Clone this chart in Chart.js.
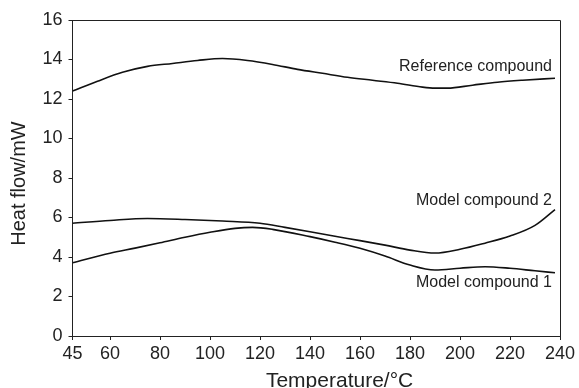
<!DOCTYPE html>
<html><head><meta charset="utf-8">
<script src="https://cdn.jsdelivr.net/npm/chart.js@4"></script>
<style>html,body{margin:0;padding:0;background:#fff}#wrap{width:579px;height:388px}</style>
</head><body><div id="wrap"><canvas id="c" width="579" height="388"></canvas></div>
<script>
const xTicks = [45,60,80,100,120,140,160,180,200,220,240];
const yTicks = [0,2,4,6,8,10,12,14,16];
const refT  = [45,55,65,75,85,95,105,115,125,135,145,155,165,175,185,190,195,205,215,225,238];
const refV  = [12.4,12.9,13.35,13.65,13.8,13.95,14.05,13.95,13.75,13.5,13.3,13.1,12.95,12.8,12.6,12.55,12.55,12.7,12.85,12.95,13.05];
const m2T   = [45,60,75,90,105,120,130,140,150,160,170,180,190,200,210,220,230,238];
const m2V   = [5.71,5.85,5.95,5.9,5.82,5.71,5.5,5.28,5.05,4.83,4.6,4.35,4.2,4.39,4.7,5.06,5.6,6.4];
const m1T   = [45,60,70,80,90,100,110,117,125,140,150,160,170,180,190,200,210,220,230,238];
const m1V   = [3.71,4.19,4.45,4.72,5.0,5.25,5.45,5.5,5.4,5.03,4.75,4.44,4.05,3.59,3.34,3.43,3.51,3.43,3.3,3.2];
const seriesNames = ["Reference compound","Model compound 2","Model compound 1"];
const labelAnchors = [[236.8,13.64],[236.8,6.85],[236.8,2.68]];
const xTitle = "Temperature/°C";
const yTitle = "Heat flow/mW";

const pts = (t,v)=>t.map((x,i)=>({x:x,y:v[i]}));
const FONT = "'Liberation Sans', Arial, sans-serif";
const NB = "\u00a0";

const boxAndLabels = {
  id:'boxAndLabels',
  afterDraw(chart){
    const {ctx, chartArea:a, scales} = chart;
    ctx.save();
    ctx.strokeStyle = '#222'; ctx.lineWidth = 1;
    ctx.beginPath();
    ctx.moveTo(a.left, a.top+0.5); ctx.lineTo(a.right+0.5, a.top+0.5); ctx.lineTo(a.right+0.5, a.bottom);
    ctx.stroke();
    ctx.fillStyle = '#222';
    ctx.font = '16px ' + FONT;
    ctx.textAlign = 'right'; ctx.textBaseline = 'middle';
    seriesNames.forEach((n,i)=>{
      ctx.fillText(n, scales.x.getPixelForValue(labelAnchors[i][0]), scales.y.getPixelForValue(labelAnchors[i][1]));
    });
    ctx.restore();
  }
};

const ds = (name,t,v)=>({label:name,data:pts(t,v),borderColor:'#111',borderWidth:1.6,pointRadius:0,fill:false,cubicInterpolationMode:'monotone'});

new Chart(document.getElementById('c'),{
  type:'line',
  data:{datasets:[ds(seriesNames[0],refT,refV),ds(seriesNames[1],m2T,m2V),ds(seriesNames[2],m1T,m1V)]},
  options:{
    responsive:false, animation:false,
    layout:{padding:{left:0,right:19,top:20,bottom:0}},
    plugins:{legend:{display:false},tooltip:{enabled:false}},
    scales:{
      x:{type:'linear',min:45,max:240,
        afterBuildTicks(s){s.ticks = xTicks.map(v=>({value:v}));},
        afterFit(s){s.height = 52;},
        grid:{drawOnChartArea:false,tickLength:4,color:'#222'},
        border:{color:'#222',width:1},
        ticks:{color:'#222',font:{family:FONT,size:18},padding:3,maxRotation:0,autoSkip:false},
        title:{display:true,text:NB.repeat(8)+xTitle,color:'#222',font:{family:FONT,size:21},padding:{top:0,bottom:-6}}
      },
      y:{type:'linear',min:0,max:16,
        afterBuildTicks(s){s.ticks = yTicks.map(v=>({value:v}));},
        afterFit(s){s.width = 72.5;},
        grid:{drawOnChartArea:false,tickLength:4,color:'#222'},
        border:{color:'#222',width:1},
        ticks:{color:'#222',font:{family:FONT,size:18},padding:6},
        title:{display:true,text:yTitle+NB.repeat(2),color:'#222',font:{family:FONT,size:20},padding:{top:7,bottom:0}}
      }
    }
  },
  plugins:[boxAndLabels]
});
</script></body></html>
